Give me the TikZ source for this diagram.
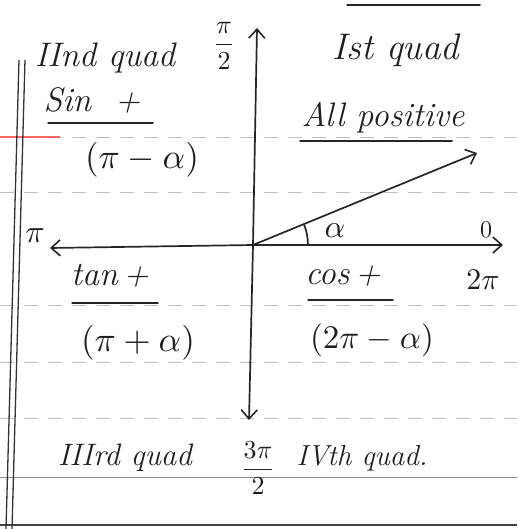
\documentclass[tikz,border=0pt]{standalone}
\usetikzlibrary{arrows.meta}
\newcommand{\handm}[2]{\scalebox{#1}{$\displaystyle #2$}}
\begin{document}
\begin{tikzpicture}[x=1pt,y=-1pt,
  ink/.style={line width=1.7pt, black!85, line cap=round},
  axisarrow/.style={ink, -{Straight Barb[length=9pt,width=16pt,line width=1.6pt]}},
  ruled/.style={line width=0.8pt, black!25, dash pattern=on 14pt off 10pt},
  hand/.style={inner sep=0pt, font=\fontsize{34}{38}\selectfont\itshape, text=black!88},
  handmath/.style={inner sep=0pt, text=black!88},
  uline/.style={line width=1.5pt, black!85, line cap=round}]
\useasboundingbox (0,0) rectangle (517,529);
\fill[white] (0,0) rectangle (517,529);
% ruled paper lines
\foreach \yy in {137,192,305,362,418} \draw[ruled] (0,\yy) -- (517,\yy);
\draw[line width=1pt, black!45] (0,477) -- (517,477);
\draw[line width=1.6pt, black!75] (0,525) -- (517,525);
\draw[line width=1.2pt, red!60!white] (0,137) -- (60,137);
% margin double line
\draw[line width=1.3pt, black!80] (19,60) -- (6,529);
\draw[line width=1.3pt, black!80] (25,60) -- (12,529);
% cut-off heading underline at top
\draw[uline] (347,5) -- (480,5);
% axes
\coordinate (O) at (253,245);
\coordinate (top) at (257,28);
\coordinate (bot) at (249,420);
\coordinate (left) at (50,248);
\coordinate (right) at (503,245);
\coordinate (tip) at (477,153);
\draw[axisarrow] (O) -- (top);
\draw[axisarrow] (O) -- (bot);
\draw[axisarrow] (O) -- (left);
\draw[axisarrow] (O) -- (right);
\draw[axisarrow] (O) -- (tip);
\draw[ink] (O) ++(55,0) arc[start angle=0, end angle=-22, radius=55];
% labels
\node[hand] (q2) at (105,58) {IInd quad};
\node[handmath] (pihalf) at (224,46) {\handm{2.6}{\frac{\pi}{2}}};
\node[hand, font=\fontsize{37}{40}\selectfont\itshape] (q1) at (396,50) {Ist quad};
\node[hand] (sin) at (92,100) {Sin\ \ +};
\draw[uline] (48,123) -- (153,123);
\node[handmath] (a2) at (142,160) {\handm{3.5}{(\pi-\alpha)}};
\node[hand] (allp) at (383,118) {All positive};
\draw[uline] (300,141) -- (452,141);
\node[handmath] (pil) at (35,236) {\handm{3.2}{\pi}};
\node[handmath] (alpha) at (335,231) {\handm{3.2}{\alpha}};
\node[handmath] (zero) at (486,230) {\handm{2.4}{0}};
\node[handmath] (twopi) at (483,280) {\handm{3}{2\pi}};
\node[hand] (tan) at (110,276) {tan\,+};
\draw[uline] (72,303) -- (158,303);
\node[handmath] (a3) at (138,343) {\handm{3.5}{(\pi+\alpha)}};
\node[hand] (cos) at (343,276) {cos\,+};
\draw[uline] (308,300) -- (393,300);
\node[handmath] (a4) at (372,340) {\handm{3.3}{(2\pi-\alpha)}};
\node[hand, font=\fontsize{31}{34}\selectfont\itshape] (q3) at (125,458) {IIIrd quad};
\node[handmath] (threepi) at (258,468) {\handm{2.6}{\frac{3\pi}{2}}};
\node[hand, font=\fontsize{29}{32}\selectfont\itshape] (q4) at (362,458) {IVth quad.};
\end{tikzpicture}
\end{document}
